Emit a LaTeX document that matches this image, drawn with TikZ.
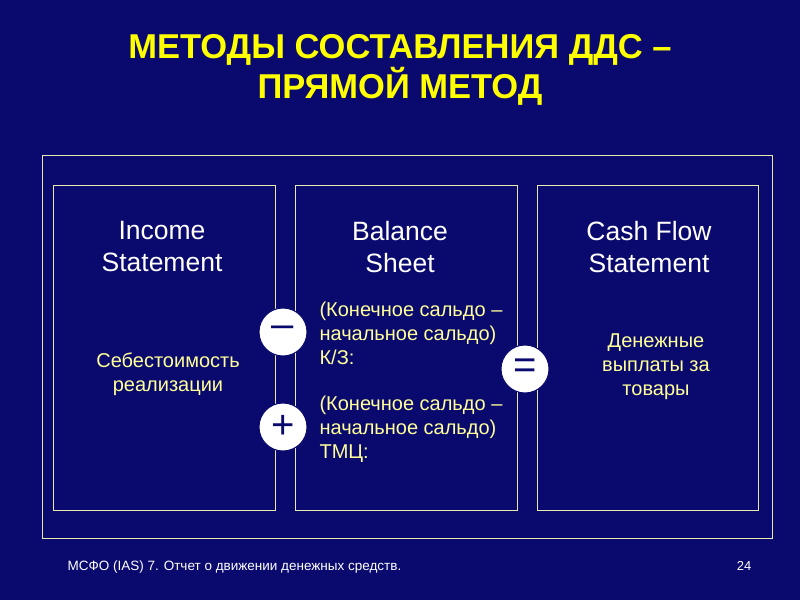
\documentclass[tikz,border=0pt]{standalone}
\usepackage{fontspec}
\setmainfont{Liberation Sans}
\definecolor{bg}{HTML}{0A0A6E}
\definecolor{ly}{HTML}{FFFF99}
\definecolor{ttl}{HTML}{FFFF00}
\definecolor{fr}{HTML}{E8E8B0}
\begin{document}
\begin{tikzpicture}[x=1pt,y=-1pt,
  boxs/.style={draw=fr,line width=0.8pt},
  hdr/.style={white,font=\fontsize{26.5}{32}\selectfont,align=center},
  body/.style={ly,font=\fontsize{20}{24}\selectfont},
  sign/.style={circle,fill=white,draw=bg,line width=1pt,minimum size=48pt,inner sep=0pt,text=bg,font=\fontsize{40}{40}\selectfont}]
\fill[bg] (0,0) rectangle (800,600);
\useasboundingbox (0,0) rectangle (800,600);
\node[ttl,font=\bfseries\fontsize{34.5}{40}\selectfont,align=center] (title) at (400,70) {МЕТОДЫ СОСТАВЛЕНИЯ ДДС –\\ПРЯМОЙ МЕТОД};
\draw[boxs] (42,155) rectangle (772,538);
\draw[boxs] (53,185) rectangle (275,510);
\draw[boxs] (295,185) rectangle (517,510);
\draw[boxs] (537,185) rectangle (758,510);
\node[hdr] (h1) at (162,247) {Income\\ Statement};
\node[hdr] (h2) at (400,247) {Balance\\ Sheet};
\node[hdr] (h3) at (649,247) {Cash Flow\\Statement};
\node[body,align=center] (b1) at (168,374) {Себестоимость\\реализации};
\node[body,align=left,anchor=north west] (b2) at (316,298) {(Конечное сальдо –\\начальное сальдо)\\К/З:};
\node[body,align=left,anchor=north west] (b3) at (316,392) {(Конечное сальдо –\\начальное сальдо)\\ТМЦ:};
\node[body,align=center] (b4) at (656,367) {Денежные\\выплаты за\\товары};
\node[sign] (m) at (283,332) {–};
\node[sign] (p) at (283,427) {+};
\node[sign] (e) at (525,369) {=};
\node[white,font=\fontsize{13.5}{16}\selectfont,anchor=west] (f) at (64,567) {МСФО (IAS) 7. Отчет о движении денежных средств.};
\node[white,font=\fontsize{13}{16}\selectfont] (n) at (744,566) {24};
\end{tikzpicture}
\end{document}
